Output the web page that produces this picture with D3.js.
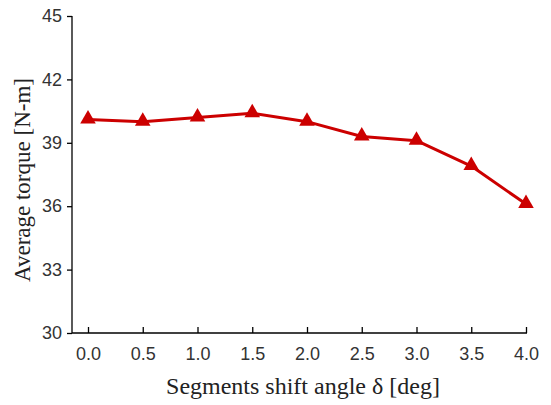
<!DOCTYPE html>
<html>
<head>
<meta charset="utf-8">
<script src="https://cdn.jsdelivr.net/npm/d3@7"></script>
<style>
  body { margin: 0; background: #fff; }
  svg { display: block; }
</style>
</head>
<body>
<svg width="551" height="405"></svg>
<script>
// shift angle (deg) vs average torque
var angles = [0.0, 0.5, 1.0, 1.5, 2.0, 2.5, 3.0, 3.5, 4.0];
var torque = [40.1, 40.0, 40.2, 40.4, 40.0, 39.3, 39.1, 37.9, 36.1];
var yTicks = [30, 33, 36, 39, 42, 45];
var xTicks = [0.0, 0.5, 1.0, 1.5, 2.0, 2.5, 3.0, 3.5, 4.0];

var svg = d3.select('svg');
// note: "top" clashes with window.top, so use plot* names
var plotL = 72, plotR = 527, plotT = 16, plotB = 333;

var x = d3.scaleLinear().domain([0, 4]).range([88, 526]);
var y = d3.scaleLinear().domain([30, 45]).range([plotB, plotT]);

// y axis, ticks point outward
var yAxis = d3.axisLeft(y).tickValues(yTicks).tickSize(5).tickPadding(5).tickFormat(d3.format('d'));
var gy = svg.append('g').attr('transform', 'translate(' + plotL + ',0)').call(yAxis);
gy.select('.domain').attr('d', 'M0,' + plotT + 'V' + plotB);

// x axis, ticks point inward
var xAxis = d3.axisBottom(x).tickValues(xTicks).tickSize(-6).tickPadding(14).tickFormat(d3.format('.1f'));
var gx = svg.append('g').attr('transform', 'translate(0,' + plotB + ')').call(xAxis);
gx.select('.domain').attr('d', 'M' + plotL + ',0H' + plotR);

svg.selectAll('.domain, .tick line').attr('stroke', '#000').attr('stroke-width', 1.3);
svg.selectAll('.tick text')
   .attr('font-family', 'Arial, "Liberation Sans", sans-serif')
   .attr('font-size', 18)
   .attr('fill', '#333');

// line
var line = d3.line().x(function(d, i) { return x(angles[i]); }).y(function(d) { return y(d); });
svg.append('path')
   .datum(torque)
   .attr('d', line)
   .attr('fill', 'none')
   .attr('stroke', '#cc0000')
   .attr('stroke-width', 3)
   .attr('stroke-linejoin', 'round');

// triangle markers
var tri = d3.symbol().type(d3.symbolTriangle).size(105);
svg.selectAll('.mk')
   .data(torque)
   .enter()
   .append('path')
   .attr('class', 'mk')
   .attr('d', tri)
   .attr('transform', function(d, i) { return 'translate(' + x(angles[i]) + ',' + (y(d) - 0.5) + ')'; })
   .attr('fill', '#cc0000');

// titles
svg.append('text')
   .attr('x', 303)
   .attr('y', 394)
   .attr('text-anchor', 'middle')
   .attr('font-family', '"Times New Roman", "Liberation Serif", serif')
   .attr('font-size', 24)
   .attr('fill', '#222')
   .text('Segments shift angle \u03b4 [deg]');

svg.append('text')
   .attr('transform', 'translate(30,180) rotate(-90)')
   .attr('text-anchor', 'middle')
   .attr('font-family', '"Times New Roman", "Liberation Serif", serif')
   .attr('font-size', 23)
   .attr('fill', '#222')
   .text('Average torque [N-m]');
</script>
</body>
</html>
